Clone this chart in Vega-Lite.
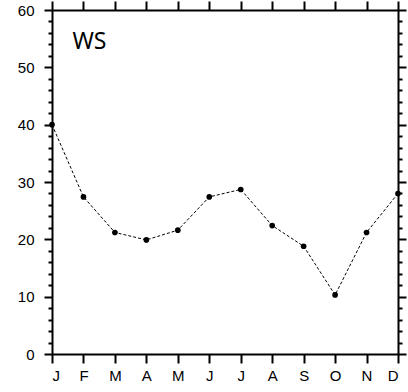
{
  "$schema": "https://vega.github.io/schema/vega-lite/v6.json",
  "width": 346,
  "height": 344,
  "autosize": {"type": "none"},
  "padding": {"left": 52, "top": 10, "right": 10, "bottom": 38},
  "background": "white",
  "config": {
    "view": {"stroke": null},
    "axis": {
      "grid": false,
      "domainColor": "black",
      "domainWidth": 2,
      "tickColor": "black",
      "tickWidth": 2,
      "labelFont": "Liberation Sans",
      "labelFontSize": 15,
      "labelColor": "black",
      "title": null
    }
  },
  "datasets": {
    "ws": [
      {"m": 1, "v": 40.0},
      {"m": 2, "v": 27.4},
      {"m": 3, "v": 21.2},
      {"m": 4, "v": 19.9},
      {"m": 5, "v": 21.6},
      {"m": 6, "v": 27.4},
      {"m": 7, "v": 28.7},
      {"m": 8, "v": 22.4},
      {"m": 9, "v": 18.8},
      {"m": 10, "v": 10.3},
      {"m": 11, "v": 21.2},
      {"m": 12, "v": 28.0}
    ],
    "lbl": [{"m": 1.65, "v": 53.2, "t": "WS"}]
  },
  "layer": [
    {
      "data": {"name": "ws"},
      "mark": {"type": "line", "color": "black", "strokeWidth": 1, "strokeDash": [3, 2]},
      "encoding": {
        "x": {
          "field": "m", "type": "quantitative",
          "scale": {"domain": [1, 12], "nice": false, "zero": false},
          "axis": {
            "orient": "bottom",
            "values": [1,2,3,4,5,6,7,8,9,10,11,12],
            "tickSize": 9,
            "labelPadding": 5,
            "labelExpr": "['J','F','M','A','M','J','J','A','S','O','N','D'][datum.value-1]"
          }
        },
        "y": {
          "field": "v", "type": "quantitative",
          "scale": {"domain": [0, 60], "nice": false},
          "axis": {
            "orient": "left",
            "values": [0,2,4,6,8,10,12,14,16,18,20,22,24,26,28,30,32,34,36,38,40,42,44,46,48,50,52,54,56,58,60],
            "tickSize": {"condition": {"test": "datum.value % 10 === 0", "value": 8}, "value": 4},
            "labelPadding": 10,
            "labelExpr": "datum.value % 10 === 0 ? datum.label : ''"
          }
        }
      }
    },
    {
      "data": {"name": "ws"},
      "mark": {"type": "point", "filled": true, "color": "black", "size": 32, "opacity": 1},
      "encoding": {
        "x": {
          "field": "m", "type": "quantitative",
          "axis": {
            "orient": "top",
            "values": [1,2,3,4,5,6,7,8,9,10,11,12],
            "tickSize": 9,
            "labels": false
          }
        },
        "y": {
          "field": "v", "type": "quantitative",
          "axis": {
            "orient": "right",
            "values": [0,2,4,6,8,10,12,14,16,18,20,22,24,26,28,30,32,34,36,38,40,42,44,46,48,50,52,54,56,58,60],
            "tickSize": {"condition": {"test": "datum.value % 10 === 0", "value": 8}, "value": 4},
            "labels": false
          }
        }
      }
    },
    {
      "data": {"name": "lbl"},
      "mark": {"type": "text", "font": "Noto Sans", "fontSize": 23, "align": "left", "baseline": "alphabetic", "color": "black"},
      "encoding": {
        "x": {"field": "m", "type": "quantitative", "axis": null},
        "y": {"field": "v", "type": "quantitative", "axis": null},
        "text": {"field": "t"}
      }
    }
  ],
  "resolve": {"axis": {"x": "independent", "y": "independent"}}
}
